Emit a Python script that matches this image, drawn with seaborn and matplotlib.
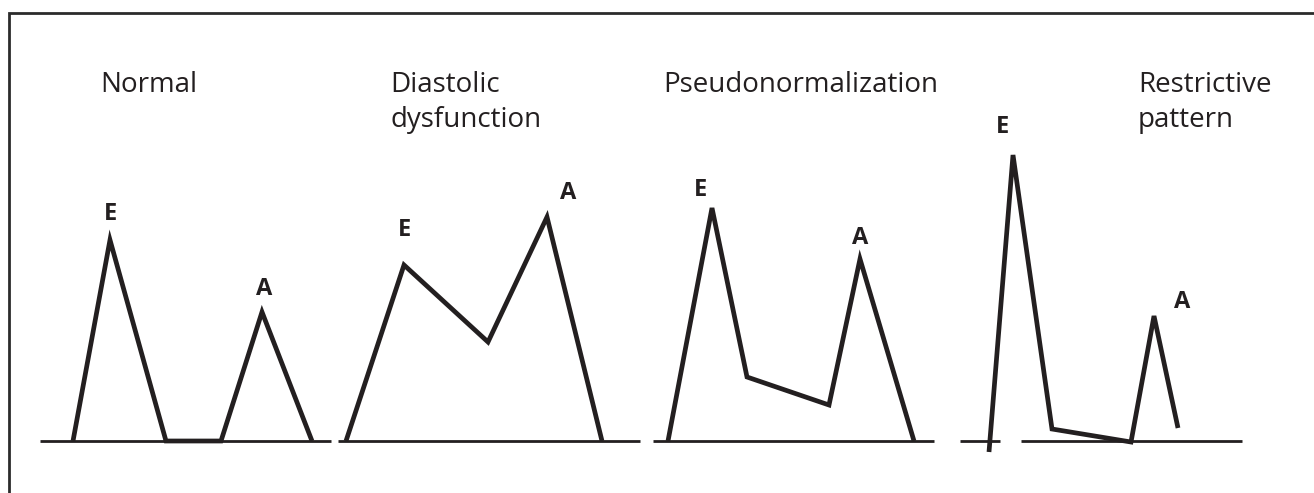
import matplotlib
matplotlib.use("Agg")
import matplotlib.pyplot as plt
import seaborn as sns

# ----------------------------------------------
# Doppler mitral inflow patterns (E / A waves)
# values are in picture pixels (x right, y down)
# ----------------------------------------------
titles = ["Normal", "Diastolic\ndysfunction", "Pseudonormalization", "Restrictive\npattern"]

normal_x = [73, 110, 166, 221, 262, 312]
normal_y = [441, 240, 441, 441, 312, 441]

diastolic_x = [346, 404, 488, 547, 602]
diastolic_y = [441, 265, 342, 217, 441]

pseudo_x = [668, 712, 747, 829, 860, 914]
pseudo_y = [441, 208, 377, 405, 259, 441]

restrictive_x = [989, 1013, 1052, 1131, 1154, 1178]
restrictive_y = [452, 155, 429, 442, 316, 428]

# baseline segments (x start, x end) at the zero line
baseline_y = 441
baseline_starts = [40, 338, 653, 960, 1021]
baseline_ends = [331, 640, 934, 1000, 1242]

# peak labels
wave_labels = ["E", "A", "E", "A", "E", "A", "E", "A"]
wave_label_x = [111, 264, 405, 568, 701, 860, 1003, 1182]
wave_label_y = [220, 295, 236, 199, 196, 244, 133, 308]

title_x = [100, 390, 663, 1138]
title_y = [92, 92, 92, 92]
line_gap = 35

ink = "#231f20"

sns.set_style("white")
plt.rcParams['font.family'] = ['Open Sans', 'DejaVu Sans']

fig = plt.figure(figsize=(13.14, 4.93), dpi=100)
ax = fig.add_axes([0, 0, 1, 1])
ax.set_xlim(0, 1314)
ax.set_ylim(493, 0)
ax.axis('off')

# frame (only top and left edges are visible in the crop)
ax.plot([9, 9, 1320], [500, 13, 13], color="#2b2b2b", lw=2.0, solid_joinstyle='miter')

ax.hlines([baseline_y] * len(baseline_starts), baseline_starts, baseline_ends, color=ink, lw=2.0)

for xs, ys in [(normal_x, normal_y), (diastolic_x, diastolic_y),
               (pseudo_x, pseudo_y), (restrictive_x, restrictive_y)]:
    sns.lineplot(x=xs, y=ys, sort=False, estimator=None, color=ink, lw=3.4,
                 solid_joinstyle='miter', solid_capstyle='butt', ax=ax)

for t, x, y in zip(titles, title_x, title_y):
    for i, line in enumerate(t.split("\n")):
        ax.text(x, y + i * line_gap, line, fontsize=20, color=ink, ha='left', va='baseline')

for t, x, y in zip(wave_labels, wave_label_x, wave_label_y):
    ax.text(x, y, t, fontsize=17, fontweight='bold', color=ink, ha='center', va='baseline')

ax.set_xlabel('')
ax.set_ylabel('')
fig.savefig("out.png", dpi=100)
